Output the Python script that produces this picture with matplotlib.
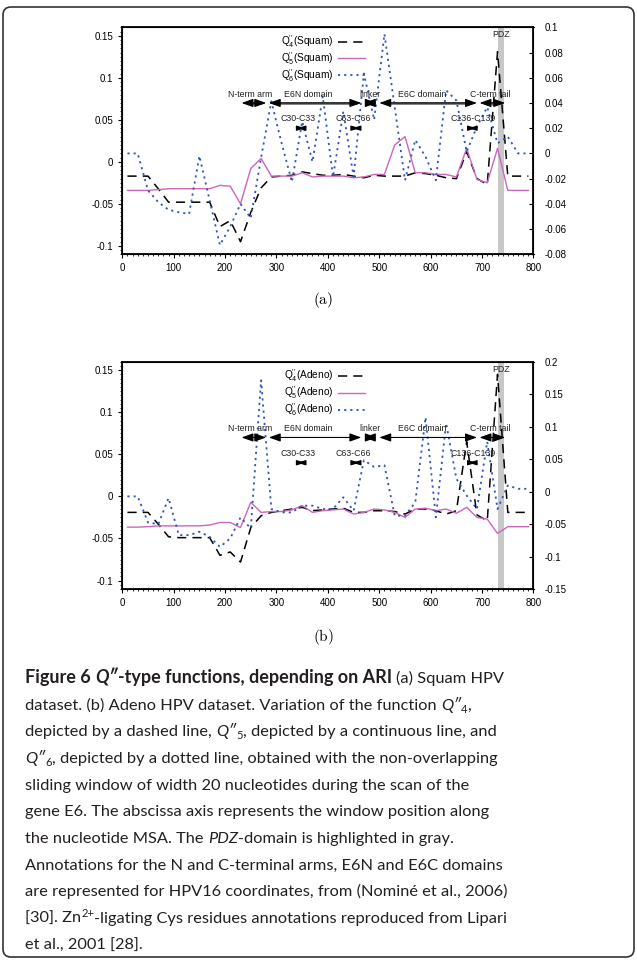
import matplotlib
matplotlib.use('Agg')
import matplotlib.pyplot as plt
from matplotlib.patches import FancyBboxPatch
from matplotlib.transforms import IdentityTransform
from matplotlib.ticker import MultipleLocator, FormatStrFormatter

plt.rcParams['font.family'] = ['Liberation Sans', 'DejaVu Sans']
plt.rcParams['mathtext.default'] = 'regular'

# window centres along the nucleotide MSA
positions = [10, 30, 50, 70, 90, 110, 130, 150, 170, 190, 210, 230, 250, 270, 290,
             310, 330, 350, 370, 390, 410, 430, 450, 470, 490, 510, 530, 550, 570,
             590, 610, 630, 650, 670, 690, 710, 730, 750, 770, 790]

# (a) Squam
q4_squam = [-0.017, -0.017, -0.017, -0.032, -0.048, -0.048, -0.048, -0.048, -0.048, -0.077,
            -0.070, -0.095, -0.060, -0.031, -0.018, -0.017, -0.016, -0.012, -0.014, -0.016,
            -0.016, -0.015, -0.017, -0.019, -0.016, -0.017, -0.017, -0.017, -0.013, -0.014,
            -0.016, -0.019, -0.020, 0.012, -0.020, -0.027, 0.131, -0.017, -0.017, -0.017]
q5_squam = [-0.034, -0.034, -0.034, -0.033, -0.032, -0.032, -0.032, -0.032, -0.032, -0.028,
            -0.029, -0.050, -0.008, 0.004, -0.017, -0.017, -0.017, -0.013, -0.018, -0.017,
            -0.017, -0.017, -0.019, -0.018, -0.015, -0.015, 0.020, 0.030, -0.013, -0.013,
            -0.015, -0.015, -0.018, 0.016, -0.021, -0.025, 0.016, -0.034, -0.034, -0.034]
q6_squam = [0.010, 0.010, -0.034, -0.048, -0.057, -0.060, -0.062, 0.007, -0.046, -0.099,
            -0.077, -0.050, -0.067, 0.005, 0.072, 0.022, -0.024, 0.048, 0.000, 0.078,
            -0.018, 0.060, -0.018, 0.105, 0.050, 0.152, 0.065, -0.022, 0.026, 0.006,
            -0.022, 0.085, 0.073, 0.012, 0.042, 0.065, 0.022, 0.030, 0.010, 0.010]

# (b) Adeno
q4_adeno = [-0.019, -0.019, -0.019, -0.033, -0.048, -0.049, -0.049, -0.049, -0.049, -0.070,
            -0.066, -0.078, -0.037, -0.023, -0.019, -0.017, -0.015, -0.013, -0.017, -0.016,
            -0.015, -0.014, -0.019, -0.019, -0.017, -0.017, -0.018, -0.021, -0.015, -0.015,
            -0.017, -0.021, -0.017, 0.065, -0.022, -0.029, 0.145, -0.019, -0.019, -0.019]
q5_adeno = [-0.0365, -0.0365, -0.036, -0.035, -0.035, -0.035, -0.035, -0.035, -0.034, -0.031,
            -0.031, -0.037, -0.007, -0.019, -0.018, -0.018, -0.016, -0.011, -0.019, -0.017,
            -0.016, -0.015, -0.021, -0.019, -0.015, -0.016, -0.019, -0.025, -0.015, -0.014,
            -0.017, -0.015, -0.020, -0.013, -0.025, -0.027, -0.044, -0.036, -0.036, -0.036]
q6_adeno = [0.000, 0.000, -0.031, -0.033, -0.002, -0.046, -0.046, -0.042, -0.048, -0.060,
            -0.050, -0.025, -0.038, 0.138, -0.015, -0.019, -0.019, -0.011, -0.011, -0.015,
            -0.015, -0.001, -0.017, 0.043, 0.035, 0.037, -0.023, -0.023, -0.007, 0.094,
            -0.025, 0.087, 0.021, 0.001, -0.015, 0.065, -0.015, 0.013, 0.009, 0.009]

# HPV16 annotations
domain_names = ['N-term arm', 'E6N domain', 'linker', 'E6C domain', 'C-term tail']
domain_start = [232, 285, 470, 500, 695]
domain_end = [280, 465, 495, 690, 745]
domain_text_x = [249, 362, 481, 583, 716]
cys_names = ['C30-C33', 'C63-C66', 'C136-C139']
cys_start = [340, 447, 673]
cys_end = [356, 462, 689]
cys_text_x = [342, 450, 683]
pdz_start, pdz_end = 730, 742

W, H = 637, 960
fig = plt.figure(figsize=(W / 100, H / 100), dpi=100)

# rounded frame around the whole figure
fig.patches.append(FancyBboxPatch((3, 3), W - 6, H - 10, boxstyle='round,pad=0,rounding_size=8',
                                  transform=IdentityTransform(), fill=False,
                                  edgecolor='#333333', linewidth=1.2))


def draw_panel(rect, q4, q5, q6, tag, right_lim, right_step, arrow_color):
    ax = fig.add_axes(rect)
    ax.axvspan(pdz_start, pdz_end, color='#c8c8c8', lw=0, zorder=0)
    l4, = ax.plot(positions, q4, color='black', lw=1.1, dashes=(6, 4))
    l5, = ax.plot(positions, q5, color='#cc66bb', lw=1.0)
    l6, = ax.plot(positions, q6, color='#3355bb', lw=1.3, dashes=(1.2, 2.2))
    ax.set_xlim(0, 800)
    ax.set_ylim(-0.11, 0.16)
    ax.xaxis.set_major_locator(MultipleLocator(100))
    ax.xaxis.set_minor_locator(MultipleLocator(10))
    ax.yaxis.set_major_locator(MultipleLocator(0.05))
    ax.yaxis.set_minor_locator(MultipleLocator(0.005))
    ax.yaxis.set_major_formatter(FormatStrFormatter('%g'))
    ax.tick_params(which='both', direction='out', labelsize=7, top=False, right=False)
    ax.tick_params(which='major', length=3, width=0.8)
    ax.tick_params(which='minor', length=1.5, width=0.6)
    for s in ax.spines.values():
        s.set_linewidth(1.3)

    # right-hand scale
    ax2 = ax.twinx()
    ax2.set_ylim(*right_lim)
    ax2.yaxis.set_major_locator(MultipleLocator(right_step))
    ax2.yaxis.set_major_formatter(FormatStrFormatter('%g'))
    ax2.tick_params(direction='in', labelsize=7, length=3, width=0.8, pad=8)

    # domain arrows
    for name, x0, x1, tx in zip(domain_names, domain_start, domain_end, domain_text_x):
        ax.annotate('', xy=(x1, 0.07), xytext=(x0, 0.07),
                    arrowprops=dict(arrowstyle='<|-|>,head_length=0.7,head_width=0.25',
                                    color='black', lw=0.8, shrinkA=0, shrinkB=0))
        if arrow_color != 'black':
            ax.plot([x0 + 9, x1 - 9], [0.07, 0.07], color=arrow_color, lw=2.0,
                    solid_capstyle='butt')
        ax.text(tx, 0.0805, name, ha='center', va='center', fontsize=6.3, color='#222222')
    for name, x0, x1, tx in zip(cys_names, cys_start, cys_end, cys_text_x):
        ax.annotate('', xy=(x1, 0.04), xytext=(x0, 0.04),
                    arrowprops=dict(arrowstyle='<|-|>,head_length=0.5,head_width=0.15',
                                    color='black', lw=0.8, shrinkA=0, shrinkB=0))
        ax.text(tx, 0.0515, name, ha='center', va='center', fontsize=6.3, color='#222222')
    ax.text((pdz_start + pdz_end) / 2, 0.151, 'PDZ', ha='center', va='center',
            fontsize=6.3, color='#222222')

    labels = [r'Q$_4^{\prime\prime}$(%s)' % tag, r'Q$_5^{\prime\prime}$(%s)' % tag,
              r'Q$_6^{\prime\prime}$(%s)' % tag]
    ax.legend([l4, l5, l6], labels, loc='upper right', bbox_to_anchor=(0.607, 1.005),
              frameon=False, markerfirst=False, fontsize=7.3, handlelength=2.6,
              handletextpad=0.5, labelspacing=0.0, borderpad=0.2)
    return ax


draw_panel([122.3 / W, 1 - 254.3 / H, 411.2 / W, 227 / H], q4_squam, q5_squam, q6_squam,
           'Squam', (-0.08, 0.1), 0.02, '#777777')
draw_panel([122.3 / W, 1 - 589 / H, 411.2 / W, 227.3 / H], q4_adeno, q5_adeno, q6_adeno,
           'Adeno', (-0.15, 0.2), 0.05, 'black')

fig.text(323 / W, 1 - 300 / H, r'$\mathrm{(a)}$', math_fontfamily='cm', fontsize=11,
         ha='center', va='center')
fig.text(323 / W, 1 - 637 / H, r'$\mathrm{(b)}$', math_fontfamily='cm', fontsize=11,
         ha='center', va='center')

# caption, drawn run by run
renderer = fig.canvas.get_renderer()
cap_size = 11.75
cap_color = '#231f20'


def style(weight='normal', italic=False, size=cap_size, family='Lato'):
    return dict(family=family, fontsize=size, fontweight=weight,
                fontstyle='italic' if italic else 'normal', color=cap_color)


def measure(s, st):
    t = fig.text(0, 0, s, transform=IdentityTransform(), **st)
    w = t.get_window_extent(renderer).width
    t.remove()
    return w


def draw_runs(x0, y_base, runs):
    x = x0
    for text, st, dy in runs:
        lead = len(text) - len(text.lstrip(' '))
        trail = len(text) - len(text.rstrip(' '))
        core = text.strip(' ')
        sp = measure('x x', st) - measure('xx', st)
        x += lead * sp
        if core:
            t = fig.text(x, H - y_base + dy, core, transform=IdentityTransform(),
                         ha='left', va='baseline', **st)
            x += t.get_window_extent(renderer).width
        x += trail * sp


R = style()
B = style('bold', size=13.0)
BI = style('bold', True, size=13.0)
I = style(italic=True)
S = style(size=cap_size * 0.68)

cap_lines = [
    [('Figure 6 ', B, 0), ('Q\u2033', BI, 0), ('-type functions, depending on ARI', B, 0),
     (' (a) Squam HPV', R, 0)],
    [('dataset. (b) Adeno HPV dataset. Variation of the function ', R, 0), ('Q\u2033', I, 0),
     ('4', S, -3), (',', R, 0)],
    [('depicted by a dashed line, ', R, 0), ('Q\u2033', I, 0), ('5', S, -3),
     (', depicted by a continuous line, and', R, 0)],
    [('Q\u2033', I, 0), ('6', S, -3), (', depicted by a dotted line, obtained with the non-overlapping', R, 0)],
    [('sliding window of width 20 nucleotides during the scan of the', R, 0)],
    [('gene E6. The abscissa axis represents the window position along', R, 0)],
    [('the nucleotide MSA. The ', R, 0), ('PDZ', I, 0), ('-domain is highlighted in gray.', R, 0)],
    [('Annotations for the N and C-terminal arms, E6N and E6C domains', R, 0)],
    [('are represented for HPV16 coordinates, from (Nomin\u00e9 et al., 2006)', R, 0)],
    [('[30]. Zn', R, 0), ('2+', S, 6), ('-ligating Cys residues annotations reproduced from Lipari', R, 0)],
    [('et al., 2001 [28].', R, 0)],
]
for i, runs in enumerate(cap_lines):
    draw_runs(25, 683 + 26.67 * i, runs)

fig.savefig('out.png', dpi=100, facecolor='white')
